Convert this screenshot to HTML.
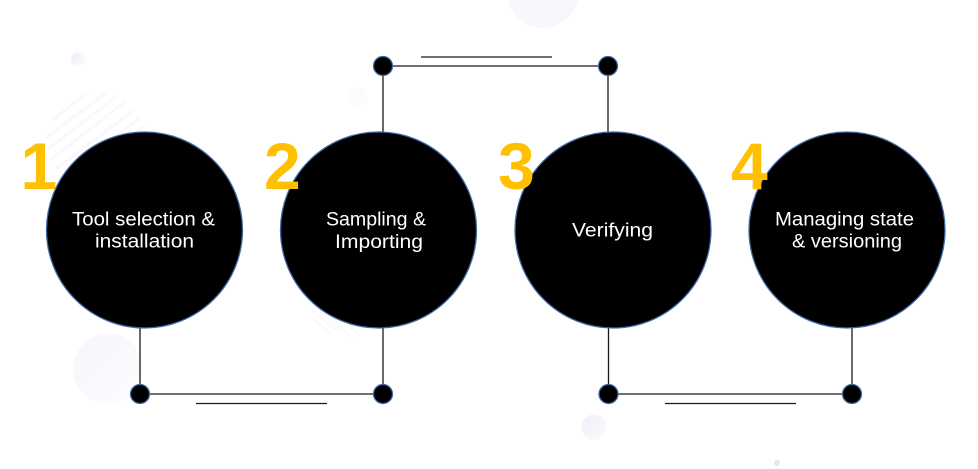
<!DOCTYPE html>
<html><head><meta charset="utf-8"><style>
html,body{margin:0;padding:0;background:#fff;width:978px;height:469px;overflow:hidden}
svg{display:block}
.t{font-family:"Liberation Sans","DejaVu Sans",sans-serif;font-size:19px;fill:#fff}
.n{font-family:"Liberation Sans",sans-serif;font-size:66px;font-weight:700;fill:#ffc000}
</style></head><body>
<svg width="978" height="469" viewBox="0 0 978 469" xmlns="http://www.w3.org/2000/svg">
<defs>
<linearGradient id="g" x1="0" y1="0" x2="1" y2="1"><stop offset="0" stop-color="#eeeff8"/><stop offset="1" stop-color="#fbfbfe"/></linearGradient>
<clipPath id="c1"><circle cx="97" cy="142" r="50"/></clipPath>
<clipPath id="c2"><circle cx="360" cy="300" r="50"/></clipPath>
</defs>
<circle cx="543" cy="-8" r="36" fill="#f7f8fc"/>
<circle cx="78" cy="59.500" r="7" fill="url(#g)"/>
<circle cx="358" cy="97" r="9.500" fill="#fcfcfe"/>
<circle cx="108" cy="369" r="35" fill="url(#g)" opacity=".55"/>
<circle cx="594" cy="427" r="12.500" fill="url(#g)"/>
<circle cx="777" cy="463" r="3" fill="#e8e4fa"/>
<g clip-path="url(#c1)" stroke="#f8f8fe" stroke-width="3">
<path d="M40 130 90 90M40 142 110 90M44 152 125 90M48 162 140 90M52 172 150 98M56 182 150 110M60 192 150 122"/>
</g>
<g clip-path="url(#c2)" stroke="#f9f9fd" stroke-width="2">
<path d="M310 308 335 330M310 316 330 334M316 300 350 336M324 298 360 336M310 300 340 330"/>
</g>
<g fill="none" stroke="#1a1a1a" stroke-width="1.300">
<path d="M140 328V394H383V328"/>
<path d="M383 132V66H608V132"/>
<path d="M608.500 328V394H852V328"/>
<path d="M196 403.500H327M421 57H552M665 403.500H796"/>
</g>
<g fill="#000" stroke="#3f6aa5" stroke-width="1.300">
<circle cx="144.500" cy="230" r="98"/>
<circle cx="378.500" cy="230" r="98"/>
<circle cx="613" cy="230" r="98"/>
<circle cx="847" cy="230" r="98"/>
<circle cx="140" cy="394" r="9.500"/>
<circle cx="383" cy="394" r="9.500"/>
<circle cx="383" cy="66" r="9.500"/>
<circle cx="608" cy="66" r="9.500"/>
<circle cx="608.500" cy="394" r="9.500"/>
<circle cx="852" cy="394" r="9.500"/>
</g>
<text class="n" x="20.500" y="189">1</text>
<text class="n" x="264" y="189">2</text>
<text class="n" x="498" y="189">3</text>
<text class="n" x="731" y="189">4</text>
<text class="t" x="72" y="225.500" textLength="143" lengthAdjust="spacingAndGlyphs">Tool selection &amp;</text>
<text class="t" x="95" y="247.500" textLength="99" lengthAdjust="spacingAndGlyphs">installation</text>
<text class="t" x="326" y="225.500" textLength="100" lengthAdjust="spacingAndGlyphs">Sampling &amp;</text>
<text class="t" x="335" y="248" textLength="88" lengthAdjust="spacingAndGlyphs">Importing</text>
<text class="t" x="572" y="236.500" textLength="81" lengthAdjust="spacingAndGlyphs">Verifying</text>
<text class="t" x="775" y="225.500" textLength="139" lengthAdjust="spacingAndGlyphs">Managing state</text>
<text class="t" x="792" y="247.500" textLength="110" lengthAdjust="spacingAndGlyphs">&amp; versioning</text>
</svg>
</body></html>
